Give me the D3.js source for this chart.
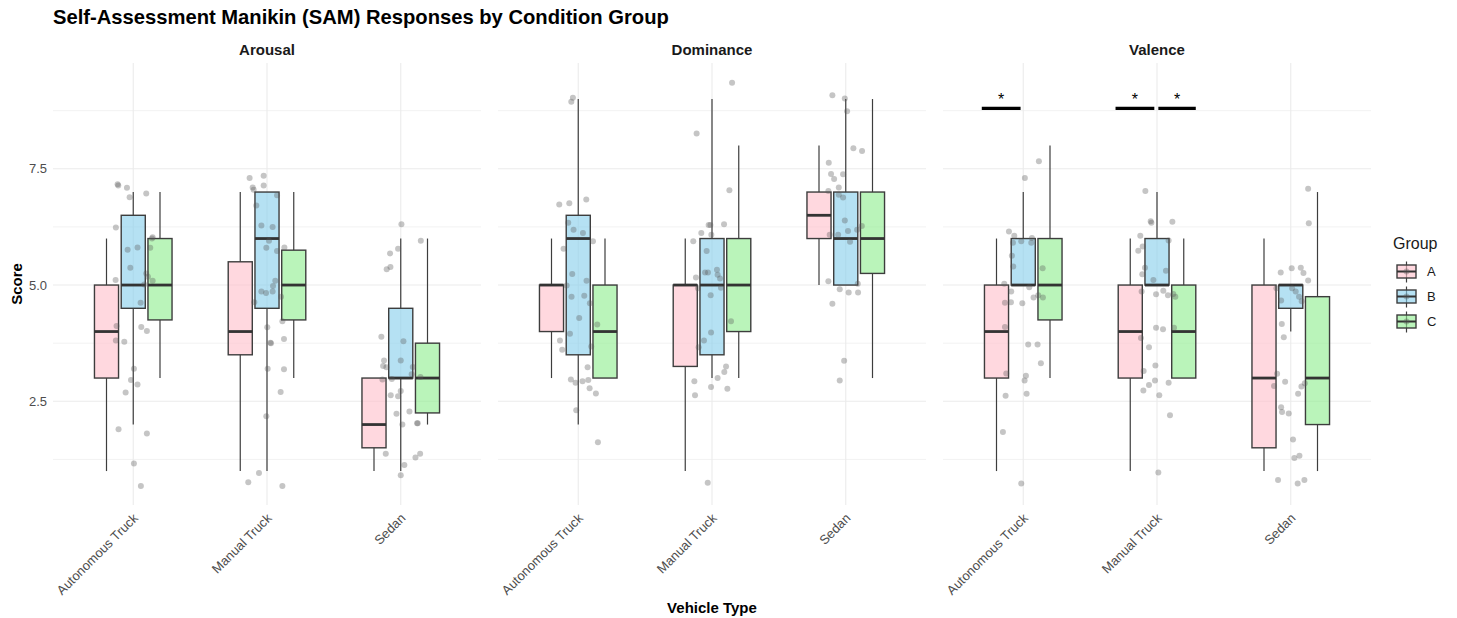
<!DOCTYPE html>
<html>
<head>
<meta charset="utf-8">
<script src="https://cdn.jsdelivr.net/npm/d3@7"></script>
<style>
  body { margin: 0; background: #fff; }
  text { font-family: "Liberation Sans", Arial, Helvetica, sans-serif; }
</style>
</head>
<body>
<div id="chart"></div>
<script>
var facets = ["Arousal", "Dominance", "Valence"];
var vehicles = ["Autonomous Truck", "Manual Truck", "Sedan"];
var groups = ["A", "B", "C"];
var yTicks = [2.5, 5.0, 7.5];
var yMinor = [1.25, 3.75, 6.25, 8.75];

// [lower whisker, q1, median, q3, upper whisker] per vehicle, per group A/B/C
var arousalBoxes = [
  [[1, 3, 4, 5, 6], [2, 4.5, 5, 6.5, 7], [3, 4.25, 5, 6, 7]],
  [[1, 3.5, 4, 5.5, 7], [1, 4.5, 6, 7, 7], [3, 4.25, 5, 5.75, 7]],
  [[1, 1.5, 2, 3, 3], [1, 3, 3, 4.5, 6], [2, 2.25, 3, 3.75, 6]]
];
var dominanceBoxes = [
  [[3, 4, 5, 5, 6], [2, 3.5, 6, 6.5, 9], [3, 3, 4, 5, 6]],
  [[1, 3.25, 5, 5, 6], [3, 3.5, 5, 6, 9], [3, 4, 5, 6, 8]],
  [[5, 6, 6.5, 7, 8], [5, 5, 6, 7, 9], [3, 5.25, 6, 7, 9]]
];
var valenceBoxes = [
  [[1, 3, 4, 5, 6], [5, 5, 5, 6, 7], [3, 4.25, 5, 6, 8]],
  [[1, 3, 4, 5, 6], [5, 5, 5, 6, 7], [3, 3, 4, 5, 6]],
  [[1, 1.5, 3, 5, 6], [4, 4.5, 5, 5, 5], [1, 2, 3, 4.75, 7]]
];

// jittered raw responses: [jitter (category units), score]
var arousalPoints = [
  [[-0.117,7.17],[-0.112,7.14],[-0.047,7.09],[-0.027,6.89],[0.097,6.97],[-0.13,6.24],[0.145,6.03],[0.14,6.0],[-0.042,5.76],[0.032,5.81],[0.127,5.80],[-0.022,5.37],[-0.132,5.11],[0.097,5.25],[0.11,5.18],[0.082,5.01],[0.145,5.09],[0.055,4.62],[-0.125,4.12],[0.06,4.10],[0.102,4.01],[-0.13,3.81],[-0.067,3.78],[0.005,3.20],[-0.017,2.96],[0.032,2.86],[-0.057,2.69],[-0.11,1.90],[0.102,1.81],[0.005,1.16],[0.057,0.68]],
  [[-0.13,7.30],[-0.025,7.35],[-0.107,7.10],[-0.1,7.05],[-0.025,7.14],[0.075,6.93],[-0.08,6.71],[-0.042,6.28],[0.042,6.25],[0.015,5.95],[0.13,5.81],[-0.005,5.80],[0.075,5.73],[0.062,5.09],[0.045,4.98],[-0.042,4.86],[-0.007,4.83],[0.042,4.86],[0.105,4.75],[-0.095,4.63],[0.115,4.22],[0.002,4.09],[0.025,3.76],[0.03,3.75],[0.127,3.84],[0.005,3.20],[0.127,3.19],[0.102,2.70],[-0.005,2.18],[-0.06,0.96],[-0.14,0.76],[0.115,0.68]],
  [[0.005,6.31],[0.15,5.95],[-0.08,5.68],[-0.02,5.78],[-0.105,5.34],[-0.077,5.39],[-0.145,3.89],[0.02,3.79],[-0.125,3.38],[0,3.38],[-0.132,3.26],[-0.107,3.23],[0.09,3.24],[-0.137,2.97],[0.082,3.08],[0.147,3.02],[-0.067,2.98],[-0.075,2.63],[-0.02,2.61],[0,2.72],[0.065,2.28],[-0.032,2.23],[0.012,2.00],[0.122,2.03],[0.127,2.03],[-0.112,1.37],[0.11,1.29],[0.145,1.37],[0.027,1.13],[0,0.91]]
];
var dominancePoints = [
  [[-0.04,9.03],[-0.052,8.94],[-0.142,6.73],[-0.067,6.76],[0.06,6.84],[-0.075,6.34],[-0.035,6.19],[0.035,6.12],[0.11,5.94],[-0.11,5.78],[-0.045,5.24],[0.062,5.09],[-0.087,4.99],[-0.05,4.75],[0.045,4.77],[0.087,4.61],[0.007,4.29],[0.142,4.15],[-0.062,3.95],[-0.137,3.81],[-0.12,3.61],[0.097,3.68],[0.07,3.23],[-0.055,2.97],[-0.02,2.90],[0.032,2.93],[0.075,2.96],[0.085,2.78],[0.132,2.67],[-0.015,2.31],[0.147,1.62]],
  [[0.15,9.35],[-0.115,8.26],[0.13,7.04],[-0.025,6.29],[-0.012,6.29],[0.09,6.31],[-0.08,6.12],[-0.005,6.08],[-0.14,5.94],[-0.04,5.73],[-0.12,5.16],[-0.052,5.27],[-0.03,5.27],[0.037,5.33],[0.042,5.22],[0.06,5.14],[-0.105,4.93],[0.067,4.94],[-0.01,4.78],[0.142,4.22],[-0.007,3.98],[-0.06,3.81],[-0.1,3.66],[0.105,3.25],[0.092,3.13],[0.042,3.00],[-0.132,2.93],[-0.127,2.63],[-0.007,2.81],[0.115,2.77],[-0.032,0.75]],
  [[-0.1,9.08],[-0.007,9.01],[0.01,8.74],[0.057,7.94],[0.122,7.88],[-0.127,7.63],[-0.11,7.39],[-0.087,7.28],[-0.02,7.38],[-0.052,7.10],[-0.13,7.02],[-0.052,6.94],[-0.02,6.88],[-0.007,6.39],[0.12,6.27],[0.017,6.16],[0.085,6.19],[-0.12,6.08],[-0.057,6.08],[0.032,5.93],[-0.13,5.08],[0.09,5.03],[-0.045,4.91],[0.022,4.84],[0.092,4.84],[-0.1,4.60],[-0.012,3.37],[-0.045,2.95]]
];
var valencePoints = [
  [[0.117,7.66],[0.012,7.30],[-0.107,6.15],[-0.067,6.06],[-0.077,5.91],[-0.015,5.94],[0.065,6.01],[0.06,5.91],[-0.085,5.63],[-0.075,5.40],[0.145,5.36],[-0.142,5.03],[0.045,4.95],[-0.09,4.86],[-0.137,4.62],[-0.092,4.63],[-0.007,4.61],[0.077,4.73],[0.112,4.78],[0.147,4.73],[-0.137,4.10],[0.037,3.72],[0.107,3.72],[0.132,3.32],[-0.127,3.10],[0.02,3.05],[0.01,2.95],[0.025,2.66],[-0.132,2.62],[-0.152,1.84],[-0.015,0.73]],
  [[-0.087,7.02],[-0.047,6.37],[-0.042,6.34],[0.115,6.36],[-0.125,6.06],[0.087,5.96],[-0.107,5.83],[-0.14,5.74],[-0.09,5.37],[0.067,5.31],[-0.11,5.23],[-0.027,5.11],[-0.115,4.86],[-0.007,4.80],[0.047,4.88],[0.082,4.78],[0.122,4.81],[0.137,4.75],[-0.007,4.08],[0.045,4.05],[0.127,4.08],[-0.12,3.86],[-0.06,3.66],[-0.012,3.27],[-0.1,3.15],[-0.015,2.95],[-0.06,2.85],[0.087,2.90],[-0.102,2.73],[0.017,2.63],[0.097,2.20],[0.01,0.97]],
  [[0.13,7.07],[0.135,6.33],[-0.075,5.27],[0.007,5.36],[0.075,5.37],[0.095,5.26],[0.13,5.10],[-0.107,4.93],[0.01,4.93],[0.037,4.86],[0.062,4.75],[-0.072,4.67],[0.082,4.65],[-0.067,4.16],[-0.052,3.88],[-0.102,3.09],[-0.125,2.83],[-0.042,2.92],[0.08,2.82],[0.105,2.89],[0.055,2.66],[-0.072,2.37],[-0.065,2.27],[-0.015,2.24],[0.017,1.68],[0.027,1.28],[0.065,1.33],[-0.095,0.81],[0.052,0.73],[0.102,0.81]]
];

// significance bars: facet, vehicle, span in category units, score height
var sigFacet = ["Valence", "Valence", "Valence"];
var sigVehicle = ["Autonomous Truck", "Manual Truck", "Manual Truck"];
var sigSpan = [[-0.31, -0.02], [-0.31, -0.02], [0.01, 0.29]];
var sigScore = 8.8;

var boxData = {Arousal: arousalBoxes, Dominance: dominanceBoxes, Valence: valenceBoxes};
var pointData = {Arousal: arousalPoints, Dominance: dominancePoints, Valence: valencePoints};

var fillColors = {A: "#ffc0cb", B: "#87ceeb", C: "#90ee90"};

var width = 1457;
var height = 618;
var panelLeft = 53;
var panelW = 428;
var panelGap = 17;
var panelTop = 63;
var panelBottom = 505;

var svg = d3.select('#chart')
  .append('svg')
  .attr('width', width)
  .attr('height', height);

svg.append('rect')
  .attr('width', width)
  .attr('height', height)
  .attr('fill', '#fff');

var y = d3.scaleLinear()
  .domain([0.27, 9.775])
  .range([panelBottom, panelTop]);

var x = d3.scalePoint()
  .domain(vehicles)
  .range([0, panelW])
  .padding(0.6);

var step = x.step();
var dodge = d3.scaleBand()
  .domain(groups)
  .range([-0.3 * step, 0.3 * step]);
var boxW = 0.18 * step;

// title
svg.append('text')
  .attr('x', 53)
  .attr('y', 24)
  .style('font-size', '20.2px')
  .style('font-weight', 'bold')
  .attr('fill', '#000')
  .text('Self-Assessment Manikin (SAM) Responses by Condition Group');

facets.forEach(function(facet, fi) {
  var g = svg.append('g')
    .attr('transform', 'translate(' + (panelLeft + fi * (panelW + panelGap)) + ',0)');

  // strip label
  g.append('text')
    .attr('x', panelW / 2)
    .attr('y', 55)
    .attr('text-anchor', 'middle')
    .style('font-size', '15px')
    .style('font-weight', 'bold')
    .attr('fill', '#1a1a1a')
    .text(facet);

  // grid
  g.selectAll('.minor')
    .data(yMinor)
    .enter().append('line')
    .attr('x1', 0).attr('x2', panelW)
    .attr('y1', function(d) { return y(d); })
    .attr('y2', function(d) { return y(d); })
    .attr('stroke', '#f2f2f2')
    .attr('stroke-width', 1);

  g.selectAll('.major')
    .data(yTicks)
    .enter().append('line')
    .attr('x1', 0).attr('x2', panelW)
    .attr('y1', function(d) { return y(d); })
    .attr('y2', function(d) { return y(d); })
    .attr('stroke', '#ebebeb')
    .attr('stroke-width', 1.1);

  g.selectAll('.vgrid')
    .data(vehicles)
    .enter().append('line')
    .attr('x1', function(d) { return x(d); })
    .attr('x2', function(d) { return x(d); })
    .attr('y1', panelTop).attr('y2', panelBottom)
    .attr('stroke', '#ebebeb')
    .attr('stroke-width', 1.1);

  // boxes
  vehicles.forEach(function(v, vi) {
    groups.forEach(function(grp, gi) {
      var s = boxData[facet][vi][gi];
      var cx = x(v) + dodge(grp) + dodge.bandwidth() / 2;
      var bg = g.append('g');
      bg.append('line')
        .attr('x1', cx).attr('x2', cx)
        .attr('y1', y(s[4])).attr('y2', y(s[3]))
        .attr('stroke', '#3d3d3d').attr('stroke-width', 1.2);
      bg.append('line')
        .attr('x1', cx).attr('x2', cx)
        .attr('y1', y(s[1])).attr('y2', y(s[0]))
        .attr('stroke', '#3d3d3d').attr('stroke-width', 1.2);
      bg.append('rect')
        .attr('x', cx - boxW / 2)
        .attr('y', y(s[3]))
        .attr('width', boxW)
        .attr('height', y(s[1]) - y(s[3]))
        .attr('fill', fillColors[grp])
        .attr('fill-opacity', 0.62)
        .attr('stroke', '#3d3d3d')
        .attr('stroke-width', 1.4);
      bg.append('line')
        .attr('x1', cx - boxW / 2).attr('x2', cx + boxW / 2)
        .attr('y1', y(s[2])).attr('y2', y(s[2]))
        .attr('stroke', '#333')
        .attr('stroke-width', 2.8);
    });
  });

  // jittered points
  vehicles.forEach(function(v, vi) {
    g.selectAll('.pt' + vi)
      .data(pointData[facet][vi])
      .enter().append('circle')
      .attr('cx', function(d) { return x(v) + d[0] * step; })
      .attr('cy', function(d) { return y(d[1]); })
      .attr('r', 3)
      .attr('fill', '#5a5a5a')
      .attr('fill-opacity', 0.35);
  });

  // significance
  sigFacet.forEach(function(f, si) {
    if (f !== facet) return;
    var cx = x(sigVehicle[si]);
    var x0 = cx + sigSpan[si][0] * step;
    var x1 = cx + sigSpan[si][1] * step;
    g.append('line')
      .attr('x1', x0).attr('x2', x1)
      .attr('y1', y(sigScore)).attr('y2', y(sigScore))
      .attr('stroke', '#000')
      .attr('stroke-width', 3.3);
    g.append('text')
      .attr('x', (x0 + x1) / 2)
      .attr('y', y(sigScore) - 3)
      .attr('text-anchor', 'middle')
      .style('font-size', '16px')
      .attr('fill', '#000')
      .text('*');
  });

  // x tick labels
  g.selectAll('.xlab')
    .data(vehicles)
    .enter().append('text')
    .attr('transform', function(d) {
      return 'translate(' + (x(d) + 5.5) + ',519) rotate(-45)';
    })
    .attr('text-anchor', 'end')
    .style('font-size', '13px')
    .attr('fill', '#4d4d4d')
    .text(function(d) { return d; });

  // y tick labels on first panel
  if (fi === 0) {
    g.selectAll('.ylab')
      .data(yTicks)
      .enter().append('text')
      .attr('x', -6)
      .attr('y', function(d) { return y(d); })
      .attr('dy', '0.35em')
      .attr('text-anchor', 'end')
      .style('font-size', '13px')
      .attr('fill', '#4d4d4d')
      .text(function(d) { return d3.format('.1f')(d); });
  }
});

// axis titles
svg.append('text')
  .attr('transform', 'translate(22,' + ((panelTop + panelBottom) / 2) + ') rotate(-90)')
  .attr('text-anchor', 'middle')
  .style('font-size', '15px')
  .style('font-weight', 'bold')
  .attr('fill', '#000')
  .text('Score');

svg.append('text')
  .attr('x', panelLeft + (3 * panelW + 2 * panelGap) / 2)
  .attr('y', 613)
  .attr('text-anchor', 'middle')
  .style('font-size', '15px')
  .style('font-weight', 'bold')
  .attr('fill', '#000')
  .text('Vehicle Type');

// legend
var legend = svg.append('g')
  .attr('transform', 'translate(1393,0)');

legend.append('text')
  .attr('x', 0)
  .attr('y', 249)
  .style('font-size', '16px')
  .attr('fill', '#1a1a1a')
  .text('Group');

var keys = legend.selectAll('.key')
  .data(groups)
  .enter().append('g')
  .attr('transform', function(d, i) { return 'translate(0,' + (271.5 + i * 25) + ')'; });

keys.append('line')
  .attr('x1', 13.5).attr('x2', 13.5)
  .attr('y1', -10).attr('y2', 11)
  .attr('stroke', '#3d3d3d').attr('stroke-width', 1.2);
keys.append('rect')
  .attr('x', 4).attr('y', -6.5)
  .attr('width', 19).attr('height', 13)
  .attr('fill', function(d) { return fillColors[d]; })
  .attr('fill-opacity', 0.62)
  .attr('stroke', '#3d3d3d')
  .attr('stroke-width', 1.4);
keys.append('line')
  .attr('x1', 4).attr('x2', 23)
  .attr('y1', 0).attr('y2', 0)
  .attr('stroke', '#333').attr('stroke-width', 2);
keys.append('circle')
  .attr('cx', 13.5).attr('cy', 0)
  .attr('r', 3)
  .attr('fill', '#5a5a5a')
  .attr('fill-opacity', 0.35);
keys.append('text')
  .attr('x', 34)
  .attr('y', 0)
  .attr('dy', '0.35em')
  .style('font-size', '13px')
  .attr('fill', '#1a1a1a')
  .text(function(d) { return d; });
</script>
</body>
</html>
